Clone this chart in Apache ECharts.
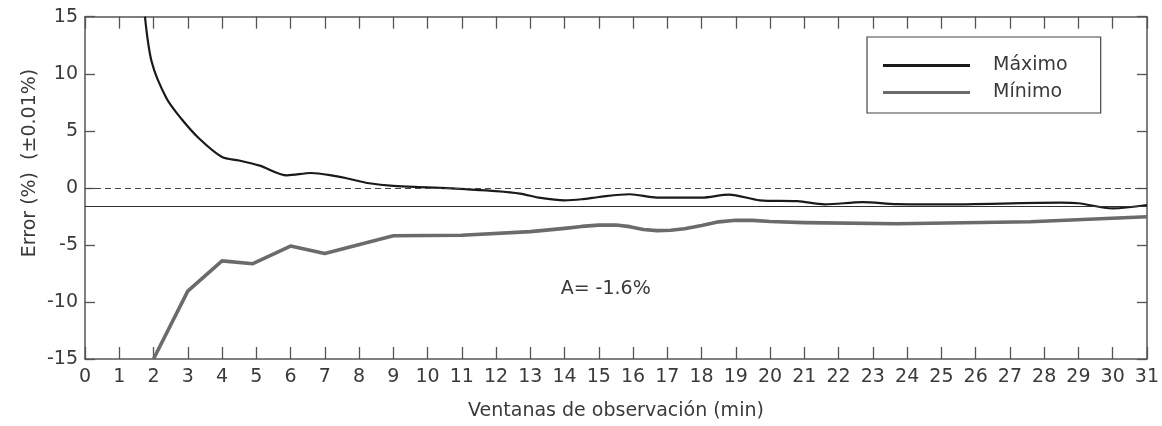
<!DOCTYPE html>
<html>
<head>
<meta charset="utf-8">
<script src="https://cdn.jsdelivr.net/npm/echarts@6/dist/echarts.min.js"></script>
<style>html,body{margin:0;padding:0;background:#fff}#c{width:1162px;height:426px}</style>
</head>
<body>
<div id="c"></div>
<script>
// ---- data ----
var maxX = [1.75, 1.95, 2.37, 2.8, 3.34, 4.0, 4.5, 5.1, 5.9, 6.6, 7.2, 7.7, 8.3, 9.0, 10.0, 11.1, 12.0, 12.7, 13.3, 14.0, 14.5, 15.0, 15.9, 16.7, 18.0, 18.8, 19.7, 20.8, 21.6, 22.7, 23.7, 25.0, 28.5, 29.0, 30.0, 31.0];
var maxY = [15, 11.0, 7.9, 6.1, 4.3, 2.7, 2.4, 1.95, 1.1, 1.3, 1.1, 0.8, 0.4, 0.17, 0.05, -0.12, -0.28, -0.5, -0.88, -1.09, -1.0, -0.8, -0.56, -0.85, -0.85, -0.59, -1.09, -1.17, -1.45, -1.25, -1.43, -1.45, -1.3, -1.35, -1.8, -1.5];
var minX = [2, 3, 4, 4.9, 6, 7, 9, 11, 13, 14, 14.5, 15.0, 15.5, 15.9, 16.3, 16.7, 17.1, 17.5, 18.0, 18.5, 19.0, 19.5, 20, 21, 23.7, 27.6, 31];
var minY = [-15, -9.05, -6.4, -6.65, -5.1, -5.75, -4.2, -4.15, -3.84, -3.55, -3.38, -3.27, -3.25, -3.4, -3.65, -3.75, -3.72, -3.58, -3.3, -2.98, -2.84, -2.85, -2.95, -3.05, -3.15, -2.97, -2.53];
var xTicks = {min: 0, max: 31, step: 1};
var yTicks = {min: -15, max: 15, step: 5};
var meanA = -1.6;
var annot = {x: 15.2, y: -8.9, text: 'A= -1.6%'};
var seriesNames = ['Máximo', 'Mínimo'];
var xTitle = 'Ventanas de observación (min)';
var yTitle = 'Error (%)  (±0.01%)';

function pairs(xs, ys){ return xs.map(function(x,i){ return [x, ys[i]]; }); }

var FONT = 'DejaVu Sans';
var TXT = '#3a3a3a';
var AX = '#555';
var C_MAX = '#1a1a1a', C_MIN = '#6b6b6b';
var chart = echarts.init(document.getElementById('c'), null, {renderer: 'canvas'});
chart.setOption({
  animation: false,
  textStyle: {fontFamily: FONT},
  grid: {left: 85, right: 10.5, top: 16.7, bottom: 64.3, containLabel: false},
  xAxis: [
    {type: 'value', min: xTicks.min, max: xTicks.max, interval: xTicks.step, position: 'bottom',
     axisLine: {show: true, onZero: false, lineStyle: {color: AX, width: 1.5}},
     axisTick: {show: true, inside: true, length: 12, lineStyle: {color: AX, width: 1.3}},
     axisLabel: {color: TXT, fontSize: 19, fontFamily: FONT, margin: 9},
     splitLine: {show: false},
     name: xTitle, nameLocation: 'middle', nameGap: 43,
     nameTextStyle: {color: TXT, fontSize: 19, fontFamily: FONT}},
    {type: 'value', min: xTicks.min, max: xTicks.max, interval: xTicks.step, position: 'top',
     axisLine: {show: true, onZero: false, lineStyle: {color: AX, width: 1.5}},
     axisTick: {show: true, inside: true, length: 12, lineStyle: {color: AX, width: 1.3}},
     axisLabel: {show: false}, splitLine: {show: false}}
  ],
  yAxis: [
    {type: 'value', min: yTicks.min, max: yTicks.max, interval: yTicks.step, position: 'left',
     axisLine: {show: true, onZero: false, lineStyle: {color: AX, width: 1.5}},
     axisTick: {show: true, inside: true, length: 10, lineStyle: {color: AX, width: 1.3}},
     axisLabel: {color: TXT, fontSize: 19, fontFamily: FONT, margin: 7},
     splitLine: {show: false}},
    {type: 'value', min: yTicks.min, max: yTicks.max, interval: yTicks.step, position: 'right',
     axisLine: {show: true, onZero: false, lineStyle: {color: AX, width: 1.5}},
     axisTick: {show: true, inside: true, length: 10, lineStyle: {color: AX, width: 1.3}},
     axisLabel: {show: false}, splitLine: {show: false}}
  ],
  legend: {
    orient: 'vertical', left: 867, top: 37,
    data: [
      {name: seriesNames[0], icon: 'rect', itemStyle: {color: C_MAX}},
      {name: seriesNames[1], icon: 'rect', itemStyle: {color: C_MIN}}
    ],
    itemWidth: 87, itemHeight: 3, itemGap: 8,
    padding: [19, 33, 11, 16],
    borderColor: '#444', borderWidth: 1.2, borderRadius: 0,
    backgroundColor: '#fff',
    textStyle: {color: TXT, fontSize: 19, fontFamily: FONT, padding: [0, 0, 0, 18]}
  },
  graphic: [{
    type: 'text', x: 30, y: 163, rotation: Math.PI / 2,
    style: {text: yTitle, fill: TXT, font: '19px "' + FONT + '"', textAlign: 'center', textVerticalAlign: 'middle'}
  }],
  series: [
    {name: seriesNames[0], type: 'line', data: pairs(maxX, maxY), smooth: 0.3,
     symbol: 'none', clip: true,
     lineStyle: {color: C_MAX, width: 2.2}, itemStyle: {color: C_MAX},
     markLine: {silent: true, symbol: 'none', label: {show: false},
       data: [
         {yAxis: 0, lineStyle: {color: '#444', width: 1.2, type: [6, 4]}},
         {yAxis: meanA, lineStyle: {color: '#333', width: 1.2, type: 'solid'}}
       ]}},
    {name: seriesNames[1], type: 'line', data: pairs(minX, minY), smooth: false,
     symbol: 'none', clip: true,
     lineStyle: {color: C_MIN, width: 3.6, join: 'round'}, itemStyle: {color: C_MIN}},
    {type: 'scatter', data: [[annot.x, annot.y]], symbolSize: 0, silent: true,
     itemStyle: {opacity: 1},
     label: {show: true, position: 'inside', formatter: annot.text, color: TXT, fontSize: 19, fontFamily: FONT, opacity: 1}}
  ]
});
</script>
</body>
</html>
